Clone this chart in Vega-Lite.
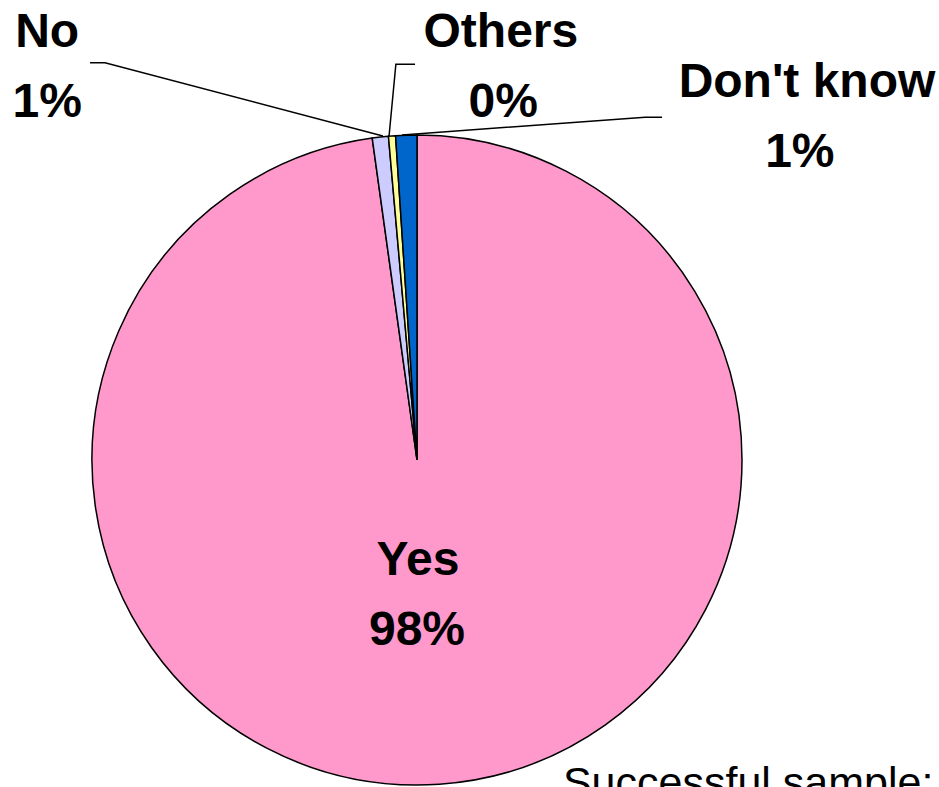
{
  "$schema": "https://vega.github.io/schema/vega-lite/v6.json",
  "width": 834,
  "height": 920,
  "autosize": {"type": "none"},
  "padding": {"left": 0, "top": 0, "right": 105, "bottom": 0},
  "background": "white",
  "config": {"view": {"stroke": null}},
  "datasets": {
    "slices": [
      {"category": "Yes", "share": 0.978, "rank": 1},
      {"category": "No", "share": 0.008, "rank": 2},
      {"category": "Others", "share": 0.0035, "rank": 3},
      {"category": "Don't know", "share": 0.0105, "rank": 4}
    ],
    "labels": [
      {"category": "No", "part": "name", "u": -113.8, "v": 127.1},
      {"category": "No", "part": "pct", "u": -113.8, "v": 105.5},
      {"category": "Others", "part": "name", "u": 25.8, "v": 127.1},
      {"category": "Others", "part": "pct", "u": 26.5, "v": 105.5},
      {"category": "Don't know", "part": "name", "u": 120.0, "v": 111.7},
      {"category": "Don't know", "part": "pct", "u": 117.8, "v": 90.2},
      {"category": "Yes", "part": "name", "u": 0.3, "v": -35.4},
      {"category": "Yes", "part": "pct", "u": 0.0, "v": -56.9}
    ],
    "leaders": [
      {"leader": "No", "k": 0, "u": -100.6, "v": 122.2},
      {"leader": "No", "k": 1, "u": -96.0, "v": 122.2},
      {"leader": "No", "k": 2, "u": -10.5, "v": 99.7},
      {"leader": "Others", "k": 0, "u": -0.6, "v": 121.8},
      {"leader": "Others", "k": 1, "u": -6.5, "v": 121.8},
      {"leader": "Others", "k": 2, "u": -8.6, "v": 99.7},
      {"leader": "Don't know", "k": 0, "u": 75.4, "v": 105.5},
      {"leader": "Don't know", "k": 1, "u": 70.2, "v": 105.5},
      {"leader": "Don't know", "k": 2, "u": -4.6, "v": 100.0}
    ],
    "notes": [
      {"note": "Successful sample:", "u": 44.9, "v": -103.7}
    ]
  },
  "layer": [
    {
      "data": {"name": "slices"},
      "mark": {"type": "arc", "outerRadius": 325, "stroke": "black", "strokeWidth": 1.5},
      "encoding": {
        "theta": {"field": "share", "type": "quantitative", "stack": true},
        "order": {"field": "rank", "type": "quantitative"},
        "color": {
          "field": "category",
          "type": "nominal",
          "scale": {"domain": ["Yes", "No", "Others", "Don't know"], "range": ["#FF99CC", "#CCCCFF", "#FFFF99", "#0066CC"]},
          "legend": null
        }
      }
    },
    {
      "data": {"name": "leaders"},
      "mark": {"type": "line", "color": "black", "strokeWidth": 1.5},
      "encoding": {
        "x": {"field": "u", "type": "quantitative", "scale": {"domain": [-128.31, 128.31], "nice": false, "zero": false}, "axis": null},
        "y": {"field": "v", "type": "quantitative", "scale": {"domain": [-141.54, 141.54], "nice": false, "zero": false}, "axis": null},
        "detail": {"field": "leader", "type": "nominal"},
        "order": {"field": "k", "type": "quantitative"}
      }
    },
    {
      "data": {"name": "labels"},
      "transform": [{"filter": "datum.part == 'name'"}],
      "mark": {"type": "text", "font": "Liberation Sans", "fontWeight": "bold", "fontSize": 48, "align": "center", "baseline": "alphabetic", "color": "black"},
      "encoding": {
        "x": {"field": "u", "type": "quantitative", "scale": {"domain": [-128.31, 128.31], "nice": false, "zero": false}, "axis": null},
        "y": {"field": "v", "type": "quantitative", "scale": {"domain": [-141.54, 141.54], "nice": false, "zero": false}, "axis": null},
        "text": {"field": "category", "type": "nominal"}
      }
    },
    {
      "data": {"name": "labels"},
      "transform": [
        {"filter": "datum.part == 'pct'"},
        {"lookup": "category", "from": {"data": {"name": "slices"}, "key": "category", "fields": ["share"]}}
      ],
      "mark": {"type": "text", "font": "Liberation Sans", "fontWeight": "bold", "fontSize": 48, "align": "center", "baseline": "alphabetic", "color": "black"},
      "encoding": {
        "x": {"field": "u", "type": "quantitative", "scale": {"domain": [-128.31, 128.31], "nice": false, "zero": false}, "axis": null},
        "y": {"field": "v", "type": "quantitative", "scale": {"domain": [-141.54, 141.54], "nice": false, "zero": false}, "axis": null},
        "text": {"field": "share", "type": "quantitative", "format": ".0%"}
      }
    },
    {
      "data": {"name": "notes"},
      "mark": {"type": "text", "font": "Liberation Sans", "fontWeight": "normal", "fontSize": 43, "align": "left", "baseline": "alphabetic", "color": "black"},
      "encoding": {
        "x": {"field": "u", "type": "quantitative", "scale": {"domain": [-128.31, 128.31], "nice": false, "zero": false}, "axis": null},
        "y": {"field": "v", "type": "quantitative", "scale": {"domain": [-141.54, 141.54], "nice": false, "zero": false}, "axis": null},
        "text": {"field": "note", "type": "nominal"}
      }
    }
  ]
}
